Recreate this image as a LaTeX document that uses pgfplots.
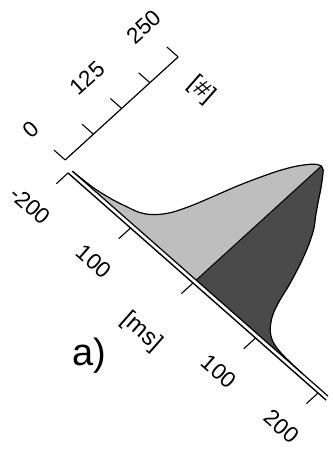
\documentclass[border=0pt]{standalone}
\usepackage{fontspec}
\setmainfont{Liberation Sans}
\usepackage{pgfplots}
\usepackage{pgfplotstable}
\pgfplotsset{compat=1.18}

\definecolor{early}{HTML}{BEBEBE}
\definecolor{late}{HTML}{4A4A4A}

% latency distribution, counts per bin; the filled profile sits on a baseline at -6
\pgfplotstableread{
t     n
-198  -6
-180  -5
-165  -3.5
-155  -1.5
-140  2.5
-130  6
-120  10
-110  14
-100  21
-90   33
-80   52
-70   82
-60   119
-50   157
-40   190
-30   220
-20   244
-10   262
-5    268
0     271
}\earlytab

\pgfplotstableread{
t     n
0     271
5     268
10    260
20    242
30    222
40    203
50    185
60    160
70    128
80    89
86    60
92    38
98    24
104   14
110   7
118   1
128   -2.5
140   -4.5
155   -5.5
170   -6
}\latetab

\tikzset{
  ticklab/.style={font=\fontsize{22.5}{25}\selectfont, inner sep=0pt},
  axlab/.style={font=\fontsize{24}{27}\selectfont, inner sep=0pt},
}

\begin{document}
\begin{tikzpicture}
\begin{axis}[
  x={(0.625pt,-0.55pt)},
  y={(0.452pt,0.412pt)},
  hide axis,
  clip=false,
  xmin=-200, xmax=213, ymin=-13, ymax=271,
]
% filled profile, split at t = 0
\addplot[fill=early, draw=none, smooth, tension=0.5] table[x=t,y=n] {\earlytab}
  -- (axis cs:0,-6) -- cycle;
\addplot[fill=late, draw=none, smooth, tension=0.5] table[x=t,y=n] {\latetab}
  -- (axis cs:0,-6) -- cycle;

% outline of the profile
\addplot[black, line width=1.2pt, smooth, tension=0.5] table[x=t,y=n] {\earlytab};
\addplot[black, line width=1.2pt, smooth, tension=0.5] table[x=t,y=n] {\latetab};
\addplot[black, line width=1.2pt] coordinates {(-198,-6) (211,-6)};
\addplot[black, line width=1pt] coordinates {(0,-6) (0,271)};

% time axis
\draw[line width=1.4pt] (axis cs:-200,-13) -- (axis cs:213,-13);
\pgfplotsinvokeforeach{-200,-100,0,100,200}{
  \draw[line width=1.1pt] (axis cs:#1,-13) -- (axis cs:#1,-39);
}
\node[rotate=-41.35, ticklab] at (axis cs:-202,-94) {-200};
\node[rotate=-41.35, ticklab] at (axis cs:-100,-94) {100};
\node[rotate=-41.35, ticklab] at (axis cs:100,-94) {100};
\node[rotate=-41.35, ticklab] at (axis cs:200,-94) {200};
\node[rotate=-41.35, axlab] at (axis cs:2,-129) {[ms]};

% count axis
\draw[line width=1.2pt] (axis cs:-214,0) -- (axis cs:-214,250);
\pgfplotsinvokeforeach{0,62.5,125,187.5,250}{
  \draw[line width=1.1pt] (axis cs:-214,#1) -- (axis cs:-232,#1);
}
\node[rotate=42.35, ticklab] at (axis cs:-269,0) {0};
\node[rotate=42.35, ticklab] at (axis cs:-269,125) {125};
\node[rotate=42.35, ticklab] at (axis cs:-269,250) {250};
\node[rotate=-41.35, axlab] at (axis cs:-165,235) {[\#]};

% panel tag
\node[font=\fontsize{38}{42}\selectfont, inner sep=0pt] at (axis cs:-20,-215) {a)};

\coordinate (tl) at (axis cs:-409.9,126.7);
\coordinate (br) at (axis cs:262.2,-65.9);
\end{axis}
\pgfresetboundingbox
\path[use as bounding box] (tl) rectangle (br);
\end{tikzpicture}
\end{document}
